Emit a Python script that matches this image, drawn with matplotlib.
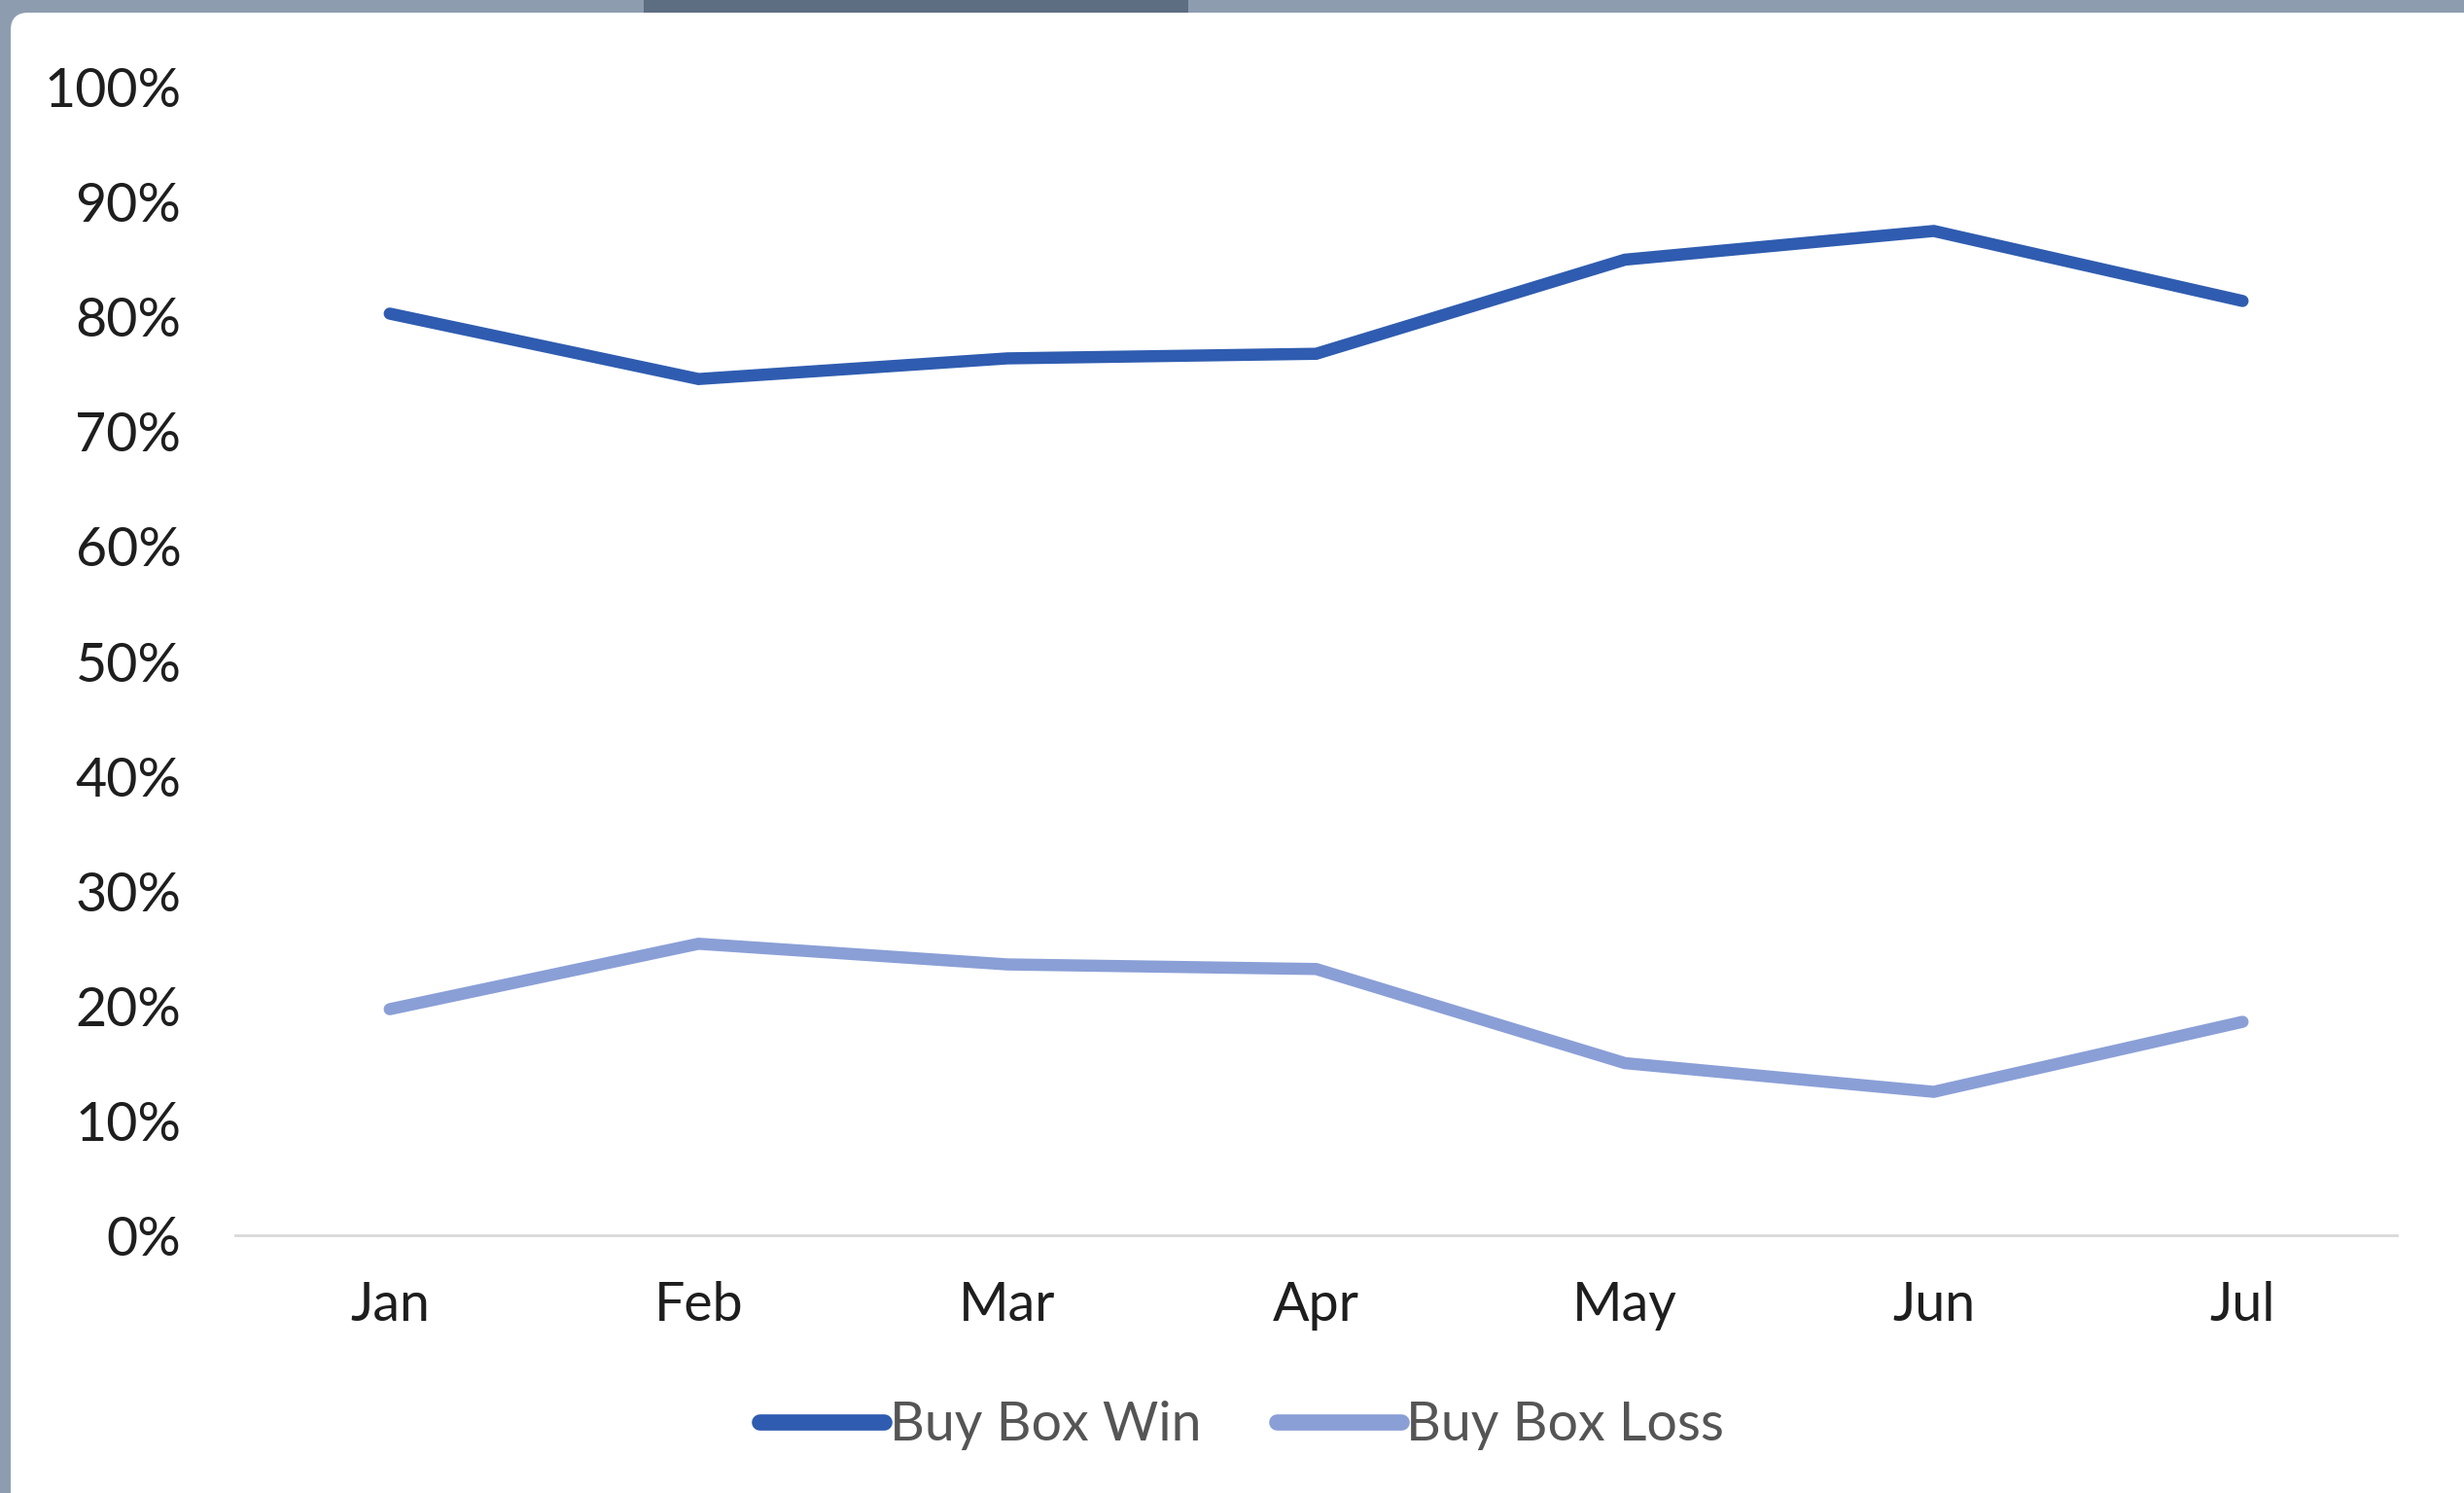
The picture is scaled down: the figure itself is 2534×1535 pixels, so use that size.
import matplotlib
matplotlib.use("Agg")
import matplotlib.pyplot as plt
from matplotlib.patches import FancyBboxPatch, Rectangle
from matplotlib.ticker import PercentFormatter

months = ["Jan", "Feb", "Mar", "Apr", "May", "Jun", "Jul"]
buy_box_win = [80.3, 74.6, 76.4, 76.8, 85.0, 87.5, 81.4]
buy_box_loss = [19.7, 25.4, 23.6, 23.2, 15.0, 12.5, 18.6]
y_ticks = [0, 10, 20, 30, 40, 50, 60, 70, 80, 90, 100]

win_color = "#2f5cb0"
loss_color = "#8a9fd6"
text_color = "#1e1e1e"

plt.rcParams["font.family"] = ["Lato", "DejaVu Sans"]

W, H = 25.34, 15.35
fig = plt.figure(figsize=(W, H), dpi=100)
fig.patch.set_facecolor("#8e9cb0")

# screenshot backdrop: darker strip behind the card and the white rounded card
strip = Rectangle((6.62, H - 0.3), 5.6, 0.3, transform=fig.dpi_scale_trans,
                  facecolor="#5d6d82", edgecolor="none", zorder=-20)
fig.patches.append(strip)
card = FancyBboxPatch((0.11, -0.5), W + 0.5, H - 0.13 + 0.5,
                      boxstyle="round,pad=0,rounding_size=0.18",
                      transform=fig.dpi_scale_trans, facecolor="white",
                      edgecolor="none", zorder=-10)
fig.patches.append(card)

ax = fig.add_axes([0.0955, 0.1726, 0.8773, 0.7688])
ax.set_facecolor("none")

x = range(len(months))
ax.plot(x, buy_box_win, color=win_color, lw=9, label="Buy Box Win",
        solid_capstyle="round", solid_joinstyle="miter", clip_on=False)
ax.plot(x, buy_box_loss, color=loss_color, lw=9, label="Buy Box Loss",
        solid_capstyle="round", solid_joinstyle="miter", clip_on=False)

ax.set_xlim(-0.5, 6.5)
ax.set_ylim(0, 100)
ax.set_xticks(list(x))
ax.set_xticklabels(months)
ax.set_yticks(y_ticks)
ax.yaxis.set_major_formatter(PercentFormatter(decimals=0))

for side in ["top", "right", "left"]:
    ax.spines[side].set_visible(False)
ax.spines["bottom"].set_color("#d9d9d9")
ax.spines["bottom"].set_linewidth(2)

ax.tick_params(axis="both", length=0, labelsize=40, colors=text_color)
ax.tick_params(axis="y", pad=40)
ax.tick_params(axis="x", pad=34)

leg = fig.legend(loc="center", bbox_to_anchor=(0.504, 0.045), ncol=2,
                 frameon=False, fontsize=40, handlelength=2.3,
                 handletextpad=0.1, columnspacing=1.4)
for t in leg.get_texts():
    t.set_color("#555555")
for h in leg.get_lines():
    h.set_linewidth(12)
    h.set_solid_capstyle("round")

fig.savefig("out.png", dpi=100, facecolor=fig.get_facecolor())
